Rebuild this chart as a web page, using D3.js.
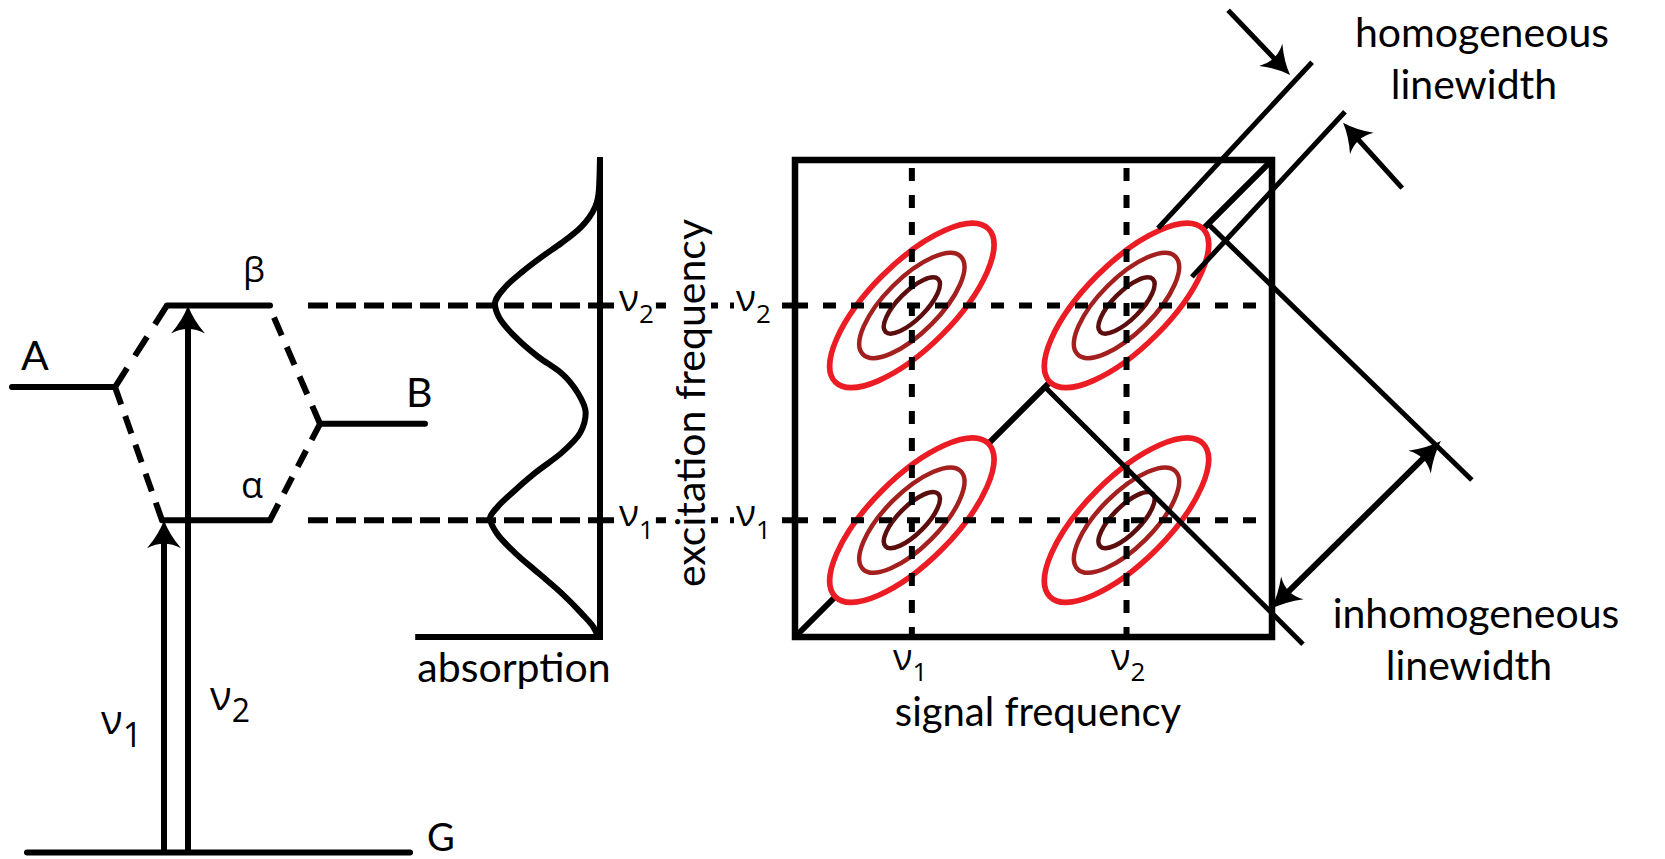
<!DOCTYPE html>
<html>
<head>
<meta charset="utf-8">
<script src="https://cdn.jsdelivr.net/npm/d3@7/dist/d3.min.js"></script>
<style>
  body { margin: 0; background: #fff; }
  svg { display: block; }
</style>
</head>
<body>
<div id="main"></div>
<script>
const W = 1665, H = 859

// transition frequencies (arbitrary units)
const nuSubs = ["1", "2"]
const nuValues = [2.45, 6.95]

// energy levels, same units as the frequencies
const levelNames = ["A", "β", "α", "B", "G"]
const levelEnergy = [5.24, 6.95, 2.45, 4.47, -4.52]

// linear absorption spectrum
const absFreq = [10.06, 9.37, 9.01, 8.60, 8.26, 7.97, 7.65, 7.34, 6.98, 6.71, 6.29, 5.87, 5.53, 5.11,
                 4.70, 4.28, 3.86, 3.44, 3.02, 2.73, 2.49, 2.18, 1.76, 1.34, 0.92, 0.50, 0.21, 0.00]
const absValue = [0, 0.01, 0.045, 0.17, 0.35, 0.53, 0.71, 0.86, 0.955, 0.92, 0.77, 0.56, 0.35, 0.2,
                  0.13, 0.18, 0.35, 0.59, 0.8, 0.93, 1.0, 0.94, 0.77, 0.56, 0.35, 0.17, 0.06, 0.015]

// 2D peaks (signal, excitation)
const peakSignal = [2.45, 6.95, 2.45, 6.95]
const peakExcitation = [6.95, 6.95, 2.45, 2.45]

// contours: semi-axis along the diagonal / across it
const contourLong = [2.27, 1.45, 0.78]
const contourShort = [0.88, 0.57, 0.29]

// annotation lines on the 2D map, [signal, excitation]
const diagonal = [[0, 0], [10, 10]]
const inhomLine1 = [[5.24, 5.24], [10.65, -0.15]]
const inhomLine2 = [[8.66, 8.66], [14.19, 3.29]]
const homLine1 = [[7.61, 8.57], [10.84, 12.05]]
const homLine2 = [[8.32, 7.55], [11.53, 11.01]]
const homArrow1 = [[9.08, 13.14], [10.38, 11.78]]
const homArrow2 = [[12.73, 9.41], [11.49, 10.78]]
const inhomArrow = [[9.98, 0.59], [13.54, 4.11]]

// layout
const levelX = { "A": [12, 115], "β": [167, 270], "α": [162, 270], "B": [320, 425], "G": [27, 410] }
const arrowX = [164, 188]
const contourColor = ["#ec1c24", "#a3201f", "#5c0e0e"]
const contourWidth = [5.5, 4.5, 4.5]
const TXT = "Lato, 'Open Sans', sans-serif"
const GRK = "'Open Sans', 'Noto Sans', sans-serif"

const xSig = d3.scaleLinear().domain([0, 10]).range([795, 1272])
const yExc = d3.scaleLinear().domain([0, 10]).range([637, 160])
const xAbs = d3.scaleLinear().domain([0, 1]).range([600, 490])

let svg = d3.select("#main").append("svg").attr("width", W).attr("height", H)

function P(d) { return [xSig(d[0]), yExc(d[1])] }

// dashed line with a dash at both ends
function fitDash(g, p, q, d, gap, w) {
    let L = Math.hypot(q[0] - p[0], q[1] - p[1])
    let n = Math.max(2, Math.round((L + gap) / (d + gap)))
    let k = L / (n * d + (n - 1) * gap)
    g.append("line")
        .attr("x1", p[0]).attr("y1", p[1]).attr("x2", q[0]).attr("y2", q[1])
        .attr("stroke", "#000").attr("stroke-width", w)
        .attr("stroke-dasharray", (d * k) + "," + (gap * k))
}

function head(g, tip, from, len, half) {
    let ang = Math.atan2(tip[1] - from[1], tip[0] - from[0]) * 180 / Math.PI
    g.append("path")
        .attr("d", "M0,0 Q" + (-len * 0.5) + "," + (-half * 0.3) + " " + (-len) + "," + (-half)
            + " Q" + (-len * 0.68) + ",0 " + (-len) + "," + half
            + " Q" + (-len * 0.5) + "," + (half * 0.3) + " 0,0Z")
        .attr("transform", "translate(" + tip[0] + "," + tip[1] + ") rotate(" + ang + ")")
        .attr("fill", "#000")
}

function arrow(g, from, tip, w, len, half, both) {
    let L = Math.hypot(tip[0] - from[0], tip[1] - from[1])
    let ux = (tip[0] - from[0]) / L, uy = (tip[1] - from[1]) / L
    let s = both ? len * 0.6 : 0
    g.append("line")
        .attr("x1", from[0] + ux * s).attr("y1", from[1] + uy * s)
        .attr("x2", tip[0] - ux * len * 0.6).attr("y2", tip[1] - uy * len * 0.6)
        .attr("stroke", "#000").attr("stroke-width", w)
    head(g, tip, from, len, half)
    if (both) head(g, from, tip, len, half)
}

// nu label, optionally on a white patch that hides the dashes
function nuLabel(g, x, y, sub, size, subSize, dy, patch) {
    let gg = g.append("g")
    let t = gg.append("text").attr("x", x).attr("y", y)
        .attr("font-family", GRK).attr("font-size", size)
    t.append("tspan").text("ν")
    t.append("tspan").attr("font-size", subSize).attr("dy", dy).text(sub)
    if (patch) {
        let b = t.node().getBBox()
        gg.insert("rect", "text")
            .attr("x", b.x - 2).attr("y", y - size * 0.6)
            .attr("width", b.width + 4).attr("height", size * 0.9)
            .attr("fill", "#fff")
    }
}

// ---------- level diagram ----------
let gl = svg.append("g")
let lev = {}
levelNames.forEach((n, i) => { lev[n] = { x0: levelX[n][0], x1: levelX[n][1], y: yExc(levelEnergy[i]) } })

gl.selectAll("line.level").data(levelNames).join("line")
    .attr("class", "level")
    .attr("x1", d => lev[d].x0).attr("x2", d => lev[d].x1)
    .attr("y1", d => lev[d].y).attr("y2", d => lev[d].y)
    .attr("stroke", "#000").attr("stroke-width", 6).attr("stroke-linecap", "round")

fitDash(gl, [lev.A.x1, lev.A.y], [lev["β"].x0, lev["β"].y], 20, 13, 6)
fitDash(gl, [lev.A.x1, lev.A.y], [lev["α"].x0, lev["α"].y], 20, 13, 6)
fitDash(gl, [lev.B.x0, lev.B.y], [lev["β"].x1 + 4, lev["β"].y + 12], 20, 13, 6)
fitDash(gl, [lev.B.x0, lev.B.y], [lev["α"].x1, lev["α"].y], 20, 13, 6)

// transitions from G
arrow(gl, [arrowX[0], lev.G.y], [arrowX[0], yExc(nuValues[0])], 6, 28, 17)
arrow(gl, [arrowX[1], lev.G.y], [arrowX[1], yExc(nuValues[1])], 6, 28, 17)

gl.append("text").attr("x", 21).attr("y", 370).attr("font-family", TXT).attr("font-size", 41).text("A")
gl.append("text").attr("x", 406).attr("y", 407).attr("font-family", TXT).attr("font-size", 41).text("B")
gl.append("text").attr("x", 427).attr("y", 851).attr("font-family", TXT).attr("font-size", 38).text("G")
gl.append("text").attr("x", 243).attr("y", 282).attr("font-family", GRK).attr("font-size", 35).text("β")
gl.append("text").attr("x", 241).attr("y", 498).attr("font-family", GRK).attr("font-size", 36).text("α")
nuLabel(gl, 101, 734, nuSubs[0], 40, 34, 13)
nuLabel(gl, 210, 710, nuSubs[1], 40, 32, 12)

// ---------- dashed frequency guides ----------
let gd = svg.append("g")
nuValues.forEach(v => {
    gd.append("line").attr("x1", 308).attr("x2", xAbs(0)).attr("y1", yExc(v)).attr("y2", yExc(v))
        .attr("stroke", "#000").attr("stroke-width", 6).attr("stroke-dasharray", "20,8")
    gd.append("line").attr("x1", xAbs(0)).attr("x2", xSig(0)).attr("y1", yExc(v)).attr("y2", yExc(v))
        .attr("stroke", "#000").attr("stroke-width", 6).attr("stroke-dasharray", "14,12")
})

// ---------- absorption spectrum ----------
let ga = svg.append("g")
let absLine = d3.line()
    .x(i => xAbs(absValue[i]))
    .y(i => yExc(absFreq[i]))
    .curve(d3.curveMonotoneY)
ga.append("path").datum(d3.range(absFreq.length))
    .attr("d", absLine).attr("fill", "none").attr("stroke", "#000").attr("stroke-width", 6)
ga.append("path")
    .attr("d", "M" + xAbs(1.68) + "," + yExc(0) + "L" + xAbs(0) + "," + yExc(0) + "L" + xAbs(0) + "," + yExc(10.06))
    .attr("fill", "none").attr("stroke", "#000").attr("stroke-width", 6).attr("stroke-linejoin", "miter")
ga.append("text").attr("x", 514).attr("y", 682).attr("text-anchor", "middle")
    .attr("font-family", TXT).attr("font-size", 41).text("absorption")

// ---------- 2D spectrum ----------
let gs = svg.append("g")
gs.append("line")
    .attr("x1", P(diagonal[0])[0]).attr("y1", P(diagonal[0])[1])
    .attr("x2", P(diagonal[1])[0]).attr("y2", P(diagonal[1])[1])
    .attr("stroke", "#000").attr("stroke-width", 6)

let peaks = peakSignal.map((s, i) => ({ s: s, e: peakExcitation[i] }))
let unit = xSig(1) - xSig(0)
peaks.forEach(p => {
    let cx = xSig(p.s), cy = yExc(p.e)
    contourLong.forEach((a, k) => {
        gs.append("ellipse")
            .attr("cx", cx).attr("cy", cy)
            .attr("rx", a * unit).attr("ry", contourShort[k] * unit)
            .attr("transform", "rotate(-45," + cx + "," + cy + ")")
            .attr("fill", k == 0 ? "#fff" : "none")
            .attr("stroke", contourColor[k]).attr("stroke-width", contourWidth[k])
    })
})

nuValues.forEach(v => {
    gs.append("line").attr("x1", xSig(v)).attr("x2", xSig(v)).attr("y1", yExc(10)).attr("y2", yExc(0))
        .attr("stroke", "#000").attr("stroke-width", 6).attr("stroke-dasharray", "13,14").attr("stroke-dashoffset", -8)
    gs.append("line").attr("x1", xSig(0)).attr("x2", xSig(10)).attr("y1", yExc(v)).attr("y2", yExc(v))
        .attr("stroke", "#000").attr("stroke-width", 6).attr("stroke-dasharray", "13,15")
})

;[inhomLine1, inhomLine2, homLine1, homLine2].forEach(l => {
    gs.append("line")
        .attr("x1", P(l[0])[0]).attr("y1", P(l[0])[1])
        .attr("x2", P(l[1])[0]).attr("y2", P(l[1])[1])
        .attr("stroke", "#000").attr("stroke-width", 5)
})
// short diagonal piece from the homogeneous line to the corner
gs.append("line")
    .attr("x1", P(inhomLine2[0])[0]).attr("y1", P(inhomLine2[0])[1])
    .attr("x2", P(diagonal[1])[0]).attr("y2", P(diagonal[1])[1])
    .attr("stroke", "#000").attr("stroke-width", 5)

gs.append("rect")
    .attr("x", xSig(0)).attr("y", yExc(10))
    .attr("width", xSig(10) - xSig(0)).attr("height", yExc(0) - yExc(10))
    .attr("fill", "none").attr("stroke", "#000").attr("stroke-width", 6.5)

arrow(gs, P(homArrow1[0]), P(homArrow1[1]), 5, 28, 16)
arrow(gs, P(homArrow2[0]), P(homArrow2[1]), 5, 28, 16)
arrow(gs, P(inhomArrow[0]), P(inhomArrow[1]), 6, 30, 16, true)

// ---------- labels ----------
let gt = svg.append("g")
nuLabel(gt, 619, 311, nuSubs[1], 37, 26, 12, true)
nuLabel(gt, 736, 311, nuSubs[1], 37, 26, 12, true)
nuLabel(gt, 619, 526, nuSubs[0], 37, 26, 13, true)
nuLabel(gt, 736, 526, nuSubs[0], 37, 26, 13, true)
nuLabel(gt, 893, 670, nuSubs[0], 36, 26, 11)
nuLabel(gt, 1111, 670, nuSubs[1], 36, 26, 11)

let ge = gt.append("g").attr("transform", "translate(705,403) rotate(-90)")
let et = ge.append("text")
    .attr("text-anchor", "middle").attr("font-family", TXT).attr("font-size", 41)
    .text("excitation frequency")
let eb = et.node().getBBox()
ge.insert("rect", "text")
    .attr("x", eb.x - 2).attr("y", -34).attr("width", eb.width + 4).attr("height", 40)
    .attr("fill", "#fff")

gt.append("text").attr("x", 1038).attr("y", 726).attr("text-anchor", "middle")
    .attr("font-family", TXT).attr("font-size", 40).text("signal frequency")

gt.append("text").attr("x", 1482).attr("y", 47).attr("text-anchor", "middle")
    .attr("font-family", TXT).attr("font-size", 41).text("homogeneous")
gt.append("text").attr("x", 1474).attr("y", 99).attr("text-anchor", "middle")
    .attr("font-family", TXT).attr("font-size", 41).text("linewidth")
gt.append("text").attr("x", 1476).attr("y", 628).attr("text-anchor", "middle")
    .attr("font-family", TXT).attr("font-size", 41).text("inhomogeneous")
gt.append("text").attr("x", 1469).attr("y", 680).attr("text-anchor", "middle")
    .attr("font-family", TXT).attr("font-size", 41).text("linewidth")
</script>
</body>
</html>
